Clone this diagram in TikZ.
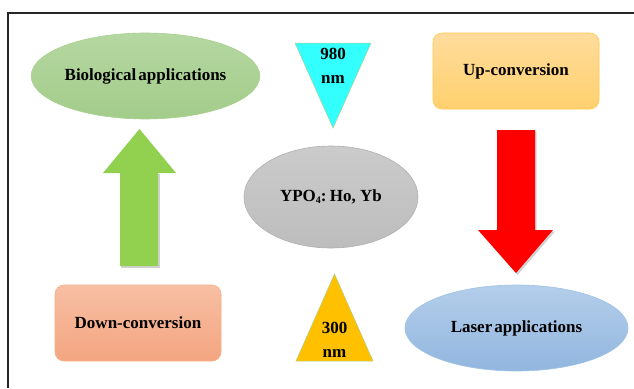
\documentclass[tikz,border=0pt]{standalone}
\usepackage{fontspec}
\setmainfont{Liberation Serif}
\usetikzlibrary{shapes.geometric}
\definecolor{bioTop}{HTML}{B5D7A1}
\definecolor{bioBot}{HTML}{A3CC8A}
\definecolor{bioLine}{HTML}{A9D18E}
\definecolor{arrGreen}{HTML}{92D050}
\definecolor{cyanFill}{HTML}{33FFFF}
\definecolor{upTop}{HTML}{FFDC9C}
\definecolor{upBot}{HTML}{FFD06E}
\definecolor{upLine}{HTML}{FFC94D}
\definecolor{grayTop}{HTML}{CBCBCB}
\definecolor{grayBot}{HTML}{BDBDBD}
\definecolor{grayLine}{HTML}{B0B0B0}
\definecolor{dnTop}{HTML}{F7BFA3}
\definecolor{dnBot}{HTML}{F4A580}
\definecolor{dnLine}{HTML}{F4B183}
\definecolor{yelFill}{HTML}{FFC000}
\definecolor{lzTop}{HTML}{B4CEEA}
\definecolor{lzBot}{HTML}{92B6DF}
\definecolor{lzLine}{HTML}{9DC3E6}
\tikzset{
  lbl/.style={font=\fontsize{17}{20}\selectfont\bfseries, text=black, align=center},
  ovalbox/.style={ellipse, inner sep=0pt, line width=0.6pt, lbl},
  roundbox/.style={rounded corners=9pt, inner sep=0pt, line width=0.6pt, lbl},
  frameline/.style={line width=1.6pt, draw=black!85},
}
\begin{document}
\begin{tikzpicture}[x=1pt,y=-1pt]
\useasboundingbox (0,0) rectangle (634,388);
% frame
\draw[frameline] (8,388) -- (8,13) -- (634,13);
% biological ellipse
\node[ovalbox, draw=bioLine, top color=bioTop, bottom color=bioBot,
      minimum width=225pt, minimum height=86pt] (bio) at (145.5,76) {Biological\hspace{0.12em}applications};
% up-conversion box
\node[roundbox, draw=upLine, top color=upTop, bottom color=upBot,
      minimum width=166pt, minimum height=76pt] (up) at (516,71) {Up-conversion};
% down-conversion box
\node[roundbox, draw=dnLine, top color=dnTop, bottom color=dnBot,
      minimum width=166pt, minimum height=76pt] (down) at (138,323) {Down-conversion};
% central ellipse
\node[ovalbox, draw=grayLine, top color=grayTop, bottom color=grayBot,
      minimum width=174pt, minimum height=102pt] (ypo) at (331,197)
      {YPO\raisebox{-0.25ex}{\fontsize{10}{11}\selectfont 4}:\hspace{0.2em}Ho, Yb};
% laser ellipse
\node[ovalbox, draw=lzLine, top color=lzTop, bottom color=lzBot,
      minimum width=223pt, minimum height=86pt] (laser) at (516.5,328) {Laser\hspace{0.12em}applications};
% cyan triangle
\draw[draw=bioLine, line width=0.5pt, fill=cyanFill] (295,43) -- (371,43) -- (333,128) -- cycle;
\node[lbl] (t980) at (333,66) {980\\[4pt]nm};
% yellow triangle
\draw[draw=bioLine, line width=0.5pt, fill=yelFill] (334.5,274) -- (373,361) -- (296,361) -- cycle;
\node[lbl] (t300) at (334.5,340) {300\\[4pt]nm};
% green arrow (up)
\fill[black, opacity=0.18] (121,174) -- (121,268) -- (159.5,268) -- (159.5,174) -- cycle;
\fill[arrGreen] (139.5,129) -- (176,173) -- (158,173) -- (158,266) -- (120,266) -- (120,173) -- (103,173) -- cycle;
% red arrow (down)
\fill[black, opacity=0.18] (498.5,131.5) -- (536.5,131.5) -- (536.5,231.5) -- (555,231.5) -- (517.5,275) -- (480,231.5) -- (498.5,231.5) -- cycle;
\fill[red] (497,130) -- (535,130) -- (535,230) -- (553,230) -- (516,273) -- (478,230) -- (497,230) -- cycle;
\end{tikzpicture}
\end{document}
